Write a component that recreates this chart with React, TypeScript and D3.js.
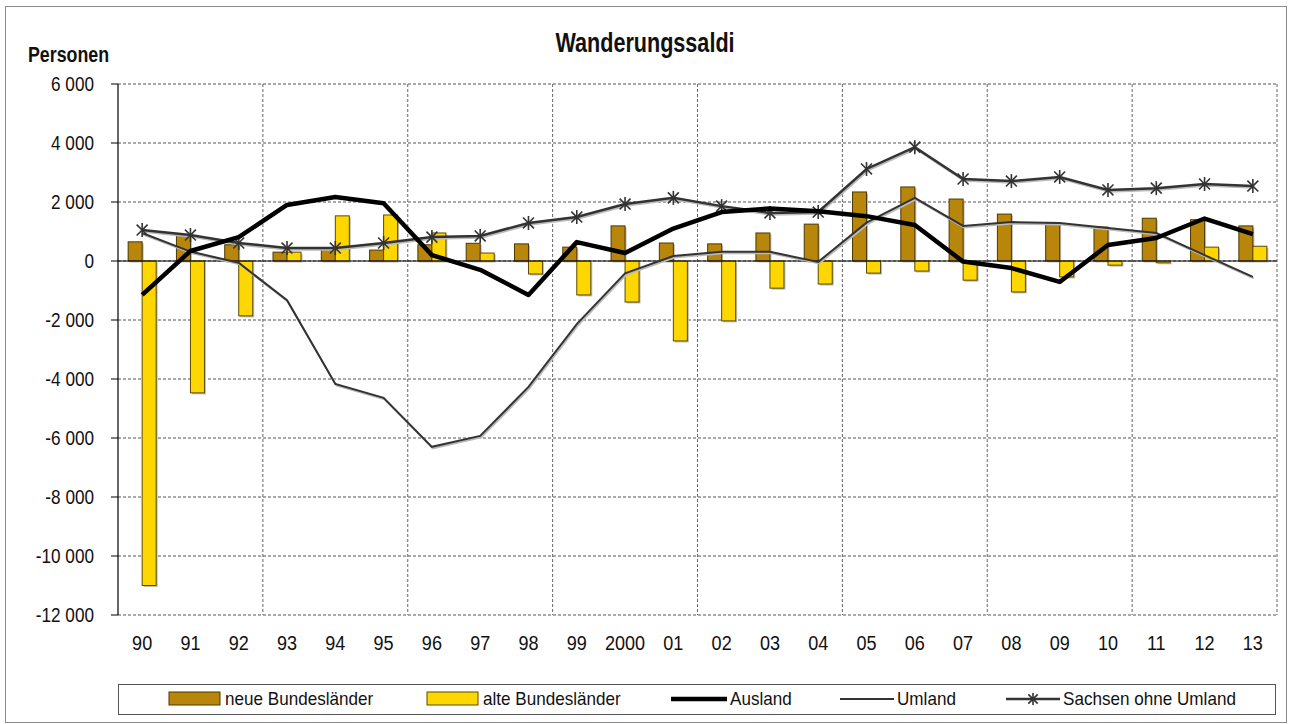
import * as d3 from "d3";

const years = ["90","91","92","93","94","95","96","97","98","99","2000","01","02","03","04","05","06","07","08","09","10","11","12","13"];
const neue = [650,900,550,300,400,370,550,600,580,470,1190,610,580,950,1250,2340,2510,2100,1590,1290,1150,1450,1400,1190];
const alte = [-11000,-4470,-1860,300,1530,1560,950,270,-440,-1150,-1390,-2710,-2030,-920,-780,-410,-340,-650,-1050,-540,-140,-60,470,500];
const ausland = [-1150,340,810,1900,2170,1960,200,-300,-1150,640,270,1100,1660,1780,1690,1520,1220,-20,-240,-710,540,780,1440,910];
const umland = [950,320,-60,-1330,-4170,-4640,-6300,-5930,-4270,-2140,-420,170,310,310,-30,1300,2140,1190,1320,1290,1120,950,200,-540];
const sachsen = [1050,880,610,440,440,610,810,850,1290,1490,1930,2140,1860,1630,1660,3120,3860,2780,2710,2850,2410,2470,2610,2540];
const yTicks = [6000,4000,2000,0,-2000,-4000,-6000,-8000,-10000,-12000];

const W = 1290, H = 724;
const left = 118, right = 1277, top = 84, bottom = 615;
const FONT = "'Liberation Sans',Arial,sans-serif";

const fmt = (v: number) => {
  const s = Math.abs(v).toString();
  const g = s.length > 3 ? s.slice(0, s.length - 3) + " " + s.slice(-3) : s;
  return (v < 0 ? "-" : "") + g;
};

// condensed text: horizontal squeeze to mimic a narrow face
function NText({ x, y, sx, size, anchor, bold, children }: any) {
  return (
    <text transform={`translate(${x},${y}) scale(${sx},1)`} fontSize={size} textAnchor={anchor || "start"}
      fontWeight={bold ? "bold" : "normal"} fill="#111">{children}</text>
  );
}

function Star({ x, y, r }: { x: number; y: number; r: number }) {
  const d = r * 0.78;
  return (
    <g stroke="#333" strokeWidth={1.6}>
      <line x1={x} y1={y - r} x2={x} y2={y + r} />
      <line x1={x - d} y1={y - d} x2={x + d} y2={y + d} />
      <line x1={x - d} y1={y + d} x2={x + d} y2={y - d} />
    </g>
  );
}

export default function App() {
  const x = d3.scaleBand<string>().domain(years).range([left, right]);
  const y = d3.scaleLinear().domain([-12000, 6000]).range([bottom, top]);
  const bw = 14;
  const cx = (i: number) => (x(years[i]) as number) + x.bandwidth() / 2;
  const line = d3.line<number>().x((_, i) => cx(i)).y(d => y(d));

  const vGrid = years.map((_, i) => i).filter(i => i % 3 === 2).map(i => (x(years[i]) as number) + x.bandwidth());

  return (
    <svg width={W} height={H} style={{ position: "absolute", left: 0, top: 0, background: "#fff" }} fontFamily={FONT}>
      <rect x={5.5} y={6.5} width={1281} height={716} fill="#fff" stroke="#8a8a8a" />
      <NText x={645} y={52} sx={0.8} size={27} anchor="middle" bold>Wanderungssaldi</NText>
      <NText x={28} y={62} sx={0.81} size={22} bold>Personen</NText>

      {/* grid */}
      {yTicks.map(t => (
        <line key={t} x1={left} x2={right} y1={y(t)} y2={y(t)} stroke="#555" strokeWidth={1} strokeDasharray="3,2" />
      ))}
      {vGrid.map((gx, i) => (
        <line key={i} x1={gx} x2={gx} y1={top} y2={bottom} stroke="#666" strokeWidth={1} strokeDasharray="3,2" />
      ))}

      {/* bars */}
      {years.map((yr, i) => {
        const c = cx(i);
        const n = neue[i], a = alte[i];
        const ny = Math.min(y(n), y(0)), nh = Math.abs(y(n) - y(0));
        const ay = Math.min(y(a), y(0)), ah = Math.abs(y(a) - y(0));
        return (
          <g key={yr}>
            <rect x={c - bw + 1.5} y={ny + 1.5} width={bw} height={nh} fill="#bdbdbd" />
            <rect x={c - bw} y={ny} width={bw} height={nh} fill="#B8860B" stroke="#4a3800" strokeWidth={1} />
            <rect x={c + 1.5} y={ay + 1.5} width={bw} height={ah} fill="#bdbdbd" />
            <rect x={c} y={ay} width={bw} height={ah} fill="#FFD700" stroke="#5c4b00" strokeWidth={1} />
          </g>
        );
      })}

      {/* zero line and axis */}
      <line x1={left} x2={right} y1={y(0)} y2={y(0)} stroke="#000" strokeWidth={1.2} />
      <line x1={left} x2={left} y1={top} y2={bottom} stroke="#000" strokeWidth={1.2} />
      {yTicks.map(t => (
        <g key={t}>
          <line x1={left - 7} x2={left} y1={y(t)} y2={y(t)} stroke="#000" />
          <NText x={94} y={y(t) + 7} sx={0.88} size={19.5} anchor="end">{fmt(t)}</NText>
        </g>
      ))}
      {years.map((yr, i) => (
        <NText key={yr} x={cx(i)} y={650} sx={0.86} size={21} anchor="middle">{yr}</NText>
      ))}

      {/* lines */}
      <path d={line(umland) as string} fill="none" stroke="#bbb" strokeWidth={2} transform="translate(1,1.5)" />
      <path d={line(umland) as string} fill="none" stroke="#333" strokeWidth={2} />
      <path d={line(sachsen) as string} fill="none" stroke="#bbb" strokeWidth={2.5} transform="translate(1,1.5)" />
      <path d={line(sachsen) as string} fill="none" stroke="#333" strokeWidth={2.5} />
      {sachsen.map((v, i) => <Star key={i} x={cx(i)} y={y(v)} r={7} />)}
      <path d={line(ausland) as string} fill="none" stroke="#000" strokeWidth={4.5} strokeLinejoin="round" />

      {/* legend */}
      <rect x={118.5} y={684.5} width={1157} height={30} fill="#fff" stroke="#555" />
      <rect x={169} y={692} width={51} height={13} fill="#B8860B" stroke="#4a3800" />
      <NText x={225} y={705} sx={0.95} size={18}>neue Bundesländer</NText>
      <rect x={427} y={692} width={51} height={13} fill="#FFD700" stroke="#5c4b00" />
      <NText x={483} y={705} sx={0.95} size={18}>alte Bundesländer</NText>
      <line x1={671} x2={727} y1={699} y2={699} stroke="#000" strokeWidth={4.5} />
      <NText x={730} y={705} sx={0.95} size={18}>Ausland</NText>
      <line x1={840} x2={894} y1={699} y2={699} stroke="#333" strokeWidth={2} />
      <NText x={897} y={705} sx={0.95} size={18}>Umland</NText>
      <line x1={1006} x2={1060} y1={699} y2={699} stroke="#333" strokeWidth={2.5} />
      <Star x={1033} y={699} r={6} />
      <NText x={1063} y={705} sx={0.95} size={18}>Sachsen ohne Umland</NText>
    </svg>
  );
}
